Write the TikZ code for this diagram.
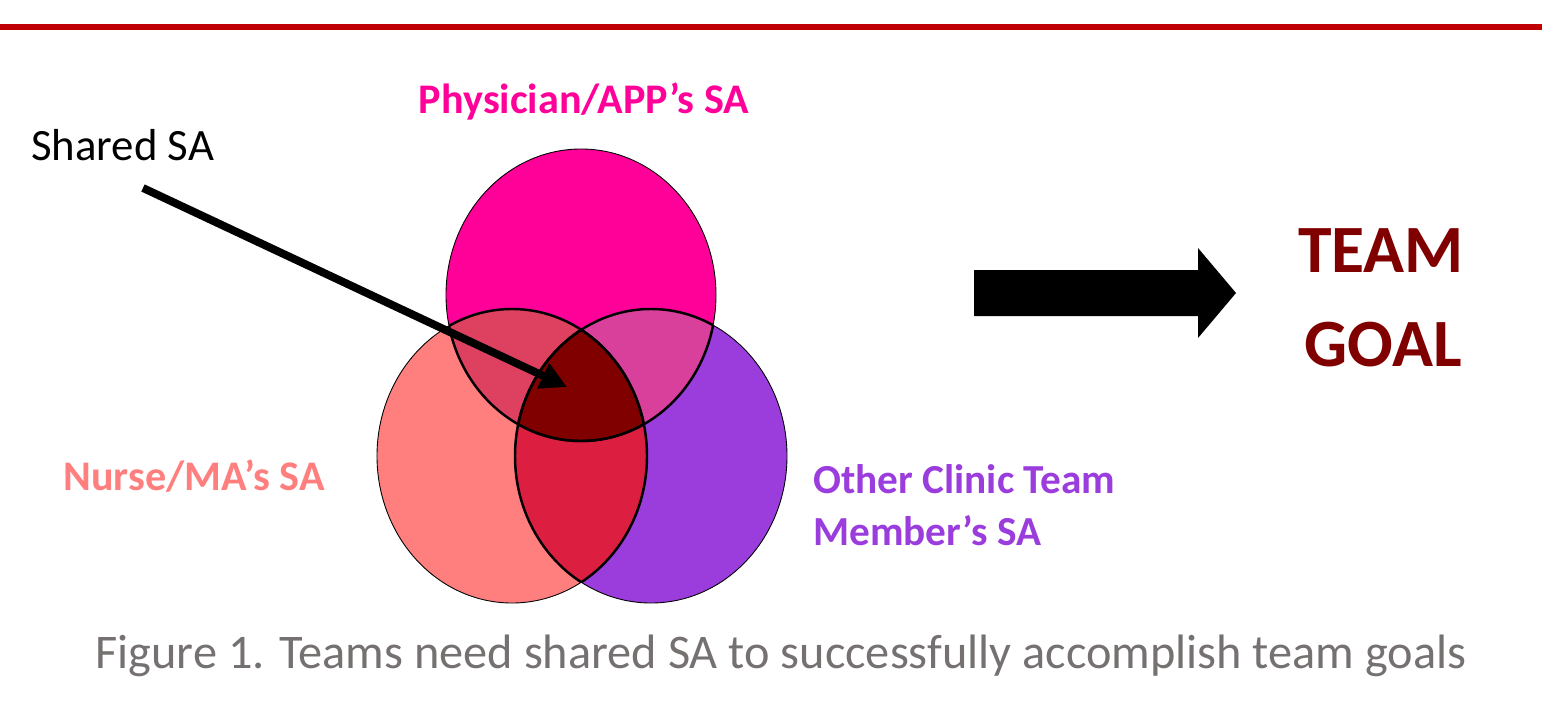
\documentclass[tikz,border=0pt]{standalone}
\usepackage{fontspec}
\setmainfont{Carlito}
\usetikzlibrary{arrows.meta,positioning}
\definecolor{rulered}{HTML}{C00000}
\definecolor{physcol}{HTML}{FF0099}
\definecolor{nursecol}{HTML}{FF7F7F}
\definecolor{othercol}{HTML}{9B3DDD}
\definecolor{pncol}{HTML}{DE4060}
\definecolor{pocol}{HTML}{D8409C}
\definecolor{nocol}{HTML}{DC1E40}
\definecolor{sharedcol}{HTML}{800000}
\definecolor{goalcol}{HTML}{800000}
\definecolor{capcol}{HTML}{767171}
\newcommand{\physpath}{(581,295) ellipse [x radius=135, y radius=146]}
\newcommand{\nursepath}{(512,456) ellipse [x radius=135, y radius=147]}
\newcommand{\otherpath}{(651,456) ellipse [x radius=136, y radius=147]}
\tikzset{
  satext/.style = {inner sep=0pt, font=\bfseries\fontsize{24pt}{29pt}\selectfont},
  goaltext/.style = {inner sep=0pt, text=goalcol, font=\bfseries\fontsize{38.5pt}{46pt}\selectfont},
  inner arc/.style = {line width=1.4pt},
  outer arc/.style = {line width=0.5pt}
}

\begin{document}
\begin{tikzpicture}[x=0.02cm,y=-0.02cm]
\useasboundingbox (0,0) rectangle (1542,706);
\draw[rulered, line width=3.4pt] (0,27) -- (1542,27);
\fill[physcol] \physpath;
\fill[nursecol] \nursepath;
\fill[othercol] \otherpath;
\begin{scope} \clip \physpath; \fill[pncol] \nursepath; \end{scope}
\begin{scope} \clip \physpath; \fill[pocol] \otherpath; \end{scope}
\begin{scope} \clip \nursepath; \fill[nocol] \otherpath; \end{scope}
\begin{scope} \clip \physpath; \clip \nursepath; \fill[sharedcol] \otherpath; \end{scope}
\draw[outer arc] \physpath \nursepath \otherpath;
\foreach \a/\b in {\physpath/\nursepath, \physpath/\otherpath, \nursepath/\physpath,
                   \nursepath/\otherpath, \otherpath/\physpath, \otherpath/\nursepath}
  {\begin{scope} \clip \b; \draw[inner arc] \a; \end{scope}}
\node[satext, text=physcol, anchor=base] (phys) at (584,113) {Physician/APP’s SA};
\node[satext, text=nursecol, anchor=base west] (nurse) at (63,490) {Nurse/MA’s SA};
\node[satext, text=othercol, anchor=base west, font=\bfseries\fontsize{23.5pt}{28pt}\selectfont] (other) at (813,493) {Other Clinic Team};
\node[satext, text=othercol, anchor=base west, font=\bfseries\fontsize{23.5pt}{28pt}\selectfont] (member) at (813,545) {Member’s SA};
\node[inner sep=0pt, anchor=base west, font=\fontsize{25.5pt}{30pt}\selectfont] (shared) at (31,160) {Shared SA};
\coordinate (shtail) at (143,188);
\coordinate (shtip) at (567,387);
\draw[line width=4.5pt, -{Triangle[length=15pt,width=15pt]}] (shtail) -- (shtip);
\fill (974,270) -- (1198,270) -- (1198,248) -- (1236,293) -- (1198,338) -- (1198,316) -- (974,316) -- cycle;
\node[goaltext, anchor=base] (team) at (1381,272) {TEAM};
\node[goaltext, anchor=base] (goal) at (1383,366) {GOAL};
\node[inner sep=0pt, anchor=base, text=capcol, font=\fontsize{27.5pt}{33pt}\selectfont] (caption) at (781,668)
  {Figure 1. Teams need shared SA to successfully accomplish team goals};
\end{tikzpicture}
\end{document}
